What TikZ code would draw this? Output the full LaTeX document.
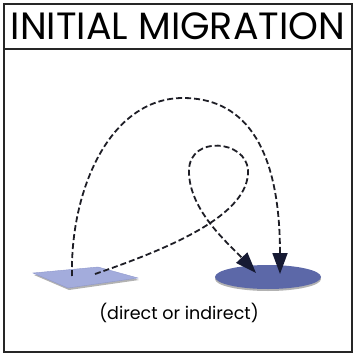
\documentclass[tikz,border=0pt]{standalone}
\usepackage{fontspec}
\setmainfont{Poppins}
\usetikzlibrary{arrows.meta,shapes.geometric}
\definecolor{sqfill}{HTML}{A3ACDC}
\definecolor{sqedge}{HTML}{8E97CC}
\definecolor{elfill}{HTML}{5C68A8}
\definecolor{arrowc}{HTML}{161A33}
\definecolor{linec}{HTML}{1E1E26}
\tikzset{
  frame/.style={line width=1.8pt, draw=black!85},
  migpath/.style={draw=linec, line width=1.8pt, dash pattern=on 6pt off 3pt,
    -{Triangle[length=21pt,width=15pt,fill=arrowc,color=arrowc]}},
  shadowc/.style={fill=black!30}
}
\begin{document}
\begin{tikzpicture}[x=1pt,y=-1pt]
\useasboundingbox (0,0) rectangle (355,356);
% frame and title
\draw[frame] (4,4) rectangle (352,352);
\draw[frame] (4,49) -- (352,49);
\node (title) at (178,26) {\fontsize{38}{40}\selectfont INITIAL MIGRATION};
\node (caption) at (179,313) {\fontsize{17.5}{20}\selectfont (direct or indirect)};
% source square (parallelogram)
\fill[shadowc] (34,275) -- (99,269) -- (139,280) -- (69,290) -- cycle;
\draw[fill=sqfill, draw=sqedge, line width=0.4pt] (33,273) -- (98,267) -- (138,278) -- (68,288) -- cycle;
% destination ellipse
\fill[shadowc] (268,279) ellipse [x radius=53, y radius=12];
\node[ellipse, fill=elfill, minimum width=106pt, minimum height=24pt, inner sep=0pt] (dest) at (268,277) {};
% start/end points
\coordinate (s1) at (72,276);
\coordinate (s2) at (95,274);
\coordinate (t1) at (280,274);
\coordinate (t2) at (256,273);
\coordinate (peak) at (183,98);
\coordinate (loopR) at (248,170);
\coordinate (loopL) at (189,170);
% direct path
\draw[migpath] (s1) .. controls (70,190) and (110,98) .. (peak)
  .. controls (240,98) and (280,140) .. (t1);
% indirect path with loop
\draw[migpath] (s2) .. controls (170,248) and (250,215) .. (loopR)
  .. controls (246,140) and (190,135) .. (loopL)
  .. controls (188,210) and (230,245) .. (t2);
\end{tikzpicture}
\end{document}
